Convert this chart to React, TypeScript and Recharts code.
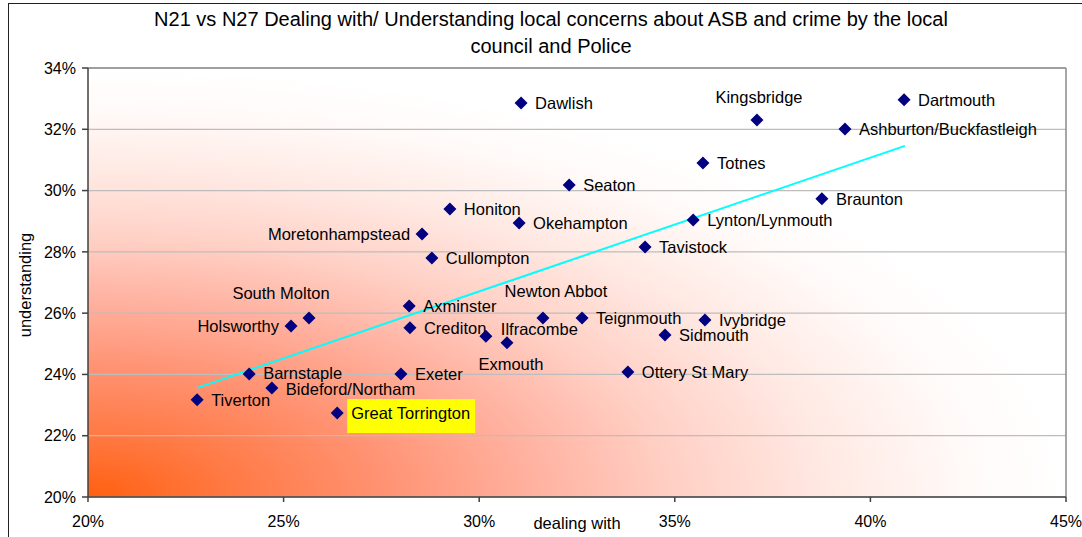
import React from 'react';
import { ScatterChart, Scatter, XAxis, YAxis, CartesianGrid, ReferenceLine } from 'recharts';

const towns = [
  'Tiverton', 'Barnstaple', 'Bideford/Northam', 'Great Torrington', 'Holsworthy', 'South Molton',
  'Axminster', 'Crediton', 'Exeter', 'Moretonhampstead', 'Cullompton', 'Honiton', 'Ilfracombe',
  'Exmouth', 'Okehampton', 'Dawlish', 'Newton Abbot', 'Teignmouth', 'Seaton', 'Ottery St Mary',
  'Tavistock', 'Sidmouth', 'Lynton/Lynmouth', 'Totnes', 'Ivybridge', 'Kingsbridge', 'Braunton',
  'Ashburton/Buckfastleigh', 'Dartmouth',
];
const dealingWith = [
  22.79, 24.12, 24.70, 26.37, 25.19, 25.65,
  28.21, 28.23, 28.00, 28.54, 28.79, 29.25, 30.17,
  30.71, 31.02, 31.07, 31.63, 32.63, 32.30, 33.80,
  34.24, 34.75, 35.47, 35.72, 35.77, 37.10, 38.76,
  39.35, 40.86,
];
const understanding = [
  23.17, 24.01, 23.56, 22.74, 25.58, 25.84,
  26.23, 25.52, 24.01, 28.58, 27.80, 29.40, 25.25,
  25.03, 28.94, 32.86, 25.84, 25.84, 30.18, 24.08,
  28.16, 25.29, 29.04, 30.90, 25.78, 32.30, 29.73,
  32.01, 32.96,
];
const xTicks = [20, 25, 30, 35, 40, 45];
const yTicks = [20, 22, 24, 26, 28, 30, 32, 34];
const trendX = [22.79, 40.88];
const trendY = [23.56, 31.46];
const highlightedTown = 'Great Torrington';

const titleLines = [
  'N21 vs N27 Dealing with/ Understanding local concerns about ASB and crime by the local',
  'council and Police',
];
const xLabel = 'dealing with';
const yLabel = 'understanding';

const data = towns.map((name, i) => ({ name, x: dealingWith[i], y: understanding[i] }));

const FONT = '"Liberation Sans", Arial, sans-serif';

type Placement = { anchor: 'start' | 'middle' | 'end'; dx: number; dy: number };
const defaultPlacement: Placement = { anchor: 'start', dx: 14, dy: 0 };
const placements: Record<string, Placement> = {
  Kingsbridge: { anchor: 'middle', dx: 2, dy: -23 },
  'South Molton': { anchor: 'middle', dx: -28, dy: -25 },
  Holsworthy: { anchor: 'end', dx: -12, dy: 0 },
  Moretonhampstead: { anchor: 'end', dx: -12, dy: 0 },
  'Newton Abbot': { anchor: 'middle', dx: 13, dy: -27 },
  Exmouth: { anchor: 'middle', dx: 4, dy: 21 },
  Ilfracombe: { anchor: 'start', dx: 15, dy: -7 },
  Barnstaple: { anchor: 'start', dx: 14, dy: -1 },
  'Bideford/Northam': { anchor: 'start', dx: 14, dy: 1 },
};

const DiamondWithLabel = (props: any) => {
  const { cx, cy, payload } = props;
  if (cx == null || cy == null) return null;
  const p = placements[payload.name] || defaultPlacement;
  const s = 6.5;
  const tx = cx + p.dx;
  const ty = cy + p.dy;
  return (
    <g>
      {payload.name === highlightedTown && (
        <rect x={tx - 4} y={ty - 14} width={128} height={34} fill="#FFFF00" />
      )}
      <path d={`M${cx},${cy - s}L${cx + s},${cy}L${cx},${cy + s}L${cx - s},${cy}Z`} fill="#000080" />
      <text
        x={tx}
        y={ty}
        textAnchor={p.anchor}
        dominantBaseline="central"
        fontSize={16.5}
        fontFamily={FONT}
        fill="#000"
      >
        {payload.name}
      </text>
    </g>
  );
};

export default function App() {
  return (
    <div style={{ position: 'absolute', left: 0, top: 0, width: 1082, height: 537, background: '#fff', overflow: 'hidden' }}>
      <svg width={0} height={0} style={{ position: 'absolute' }}>
        <defs>
          <radialGradient id="plotBg" cx="0" cy="1" r="1" fx="0" fy="1" gradientUnits="objectBoundingBox">
            <stop offset="0" stopColor="#FF6010" />
            <stop offset="0.15" stopColor="#FF7A45" />
            <stop offset="0.3" stopColor="#FF9272" />
            <stop offset="0.45" stopColor="#FFB09E" />
            <stop offset="0.6" stopColor="#FFD0C5" />
            <stop offset="0.75" stopColor="#FFE8E2" />
            <stop offset="0.9" stopColor="#FFFAF8" />
            <stop offset="1" stopColor="#FFFFFF" />
          </radialGradient>
        </defs>
      </svg>
      <div
        style={{
          position: 'absolute', left: 8, top: 3, width: 1100, height: 560,
          borderLeft: '1.5px solid #222', borderTop: '1.5px solid #222',
        }}
      />
      <div
        style={{
          position: 'absolute', left: 0, top: 6, width: 1102, textAlign: 'center',
          fontFamily: FONT, fontSize: 20, lineHeight: '27px', color: '#000',
        }}
      >
        {titleLines.map((l, i) => (
          <div key={i}>{l}</div>
        ))}
      </div>
      <div
        style={{
          position: 'absolute', left: 25, top: 285, transform: 'translate(-50%, -50%) rotate(-90deg)',
          fontFamily: FONT, fontSize: 16.5, whiteSpace: 'nowrap', color: '#000',
        }}
      >
        {yLabel}
      </div>
      <div
        style={{
          position: 'absolute', left: 577, top: 523, transform: 'translate(-50%, -50%)',
          fontFamily: FONT, fontSize: 16.5, whiteSpace: 'nowrap', color: '#000',
        }}
      >
        {xLabel}
      </div>
      <div style={{ position: 'absolute', left: 0, top: 0 }}>
        <ScatterChart width={1082} height={537} margin={{ top: 68, right: 16, bottom: 10, left: 8 }}>
          <CartesianGrid
            horizontal
            vertical={false}
            stroke="#BDBDBD"
            strokeWidth={1.2}
            fill="url(#plotBg)"
            fillOpacity={1}
          />
          <XAxis
            dataKey="x"
            type="number"
            domain={[20, 45]}
            ticks={xTicks}
            allowDataOverflow
            tickFormatter={(v: number) => `${v}%`}
            stroke="#404040"
            strokeWidth={1.5}
            tick={{ fill: '#000', fontSize: 16, fontFamily: FONT }}
            tickSize={5}
            tickMargin={14}
            height={30}
          />
          <YAxis
            dataKey="y"
            type="number"
            domain={[20, 34]}
            ticks={yTicks}
            allowDataOverflow
            tickFormatter={(v: number) => `${v}%`}
            stroke="#404040"
            strokeWidth={1.5}
            tick={{ fill: '#000', fontSize: 16, fontFamily: FONT }}
            tickSize={6}
            tickMargin={6}
            width={80}
          />
          <ReferenceLine x={45} stroke="#8A8A8A" strokeWidth={1.5} />
          <ReferenceLine y={34} stroke="#8A8A8A" strokeWidth={1.5} />
          <ReferenceLine
            segment={[
              { x: trendX[0], y: trendY[0] },
              { x: trendX[1], y: trendY[1] },
            ]}
            stroke="#00FFFF"
            strokeWidth={2}
          />
          <Scatter data={data} shape={DiamondWithLabel} isAnimationActive={false} />
        </ScatterChart>
      </div>
    </div>
  );
}
